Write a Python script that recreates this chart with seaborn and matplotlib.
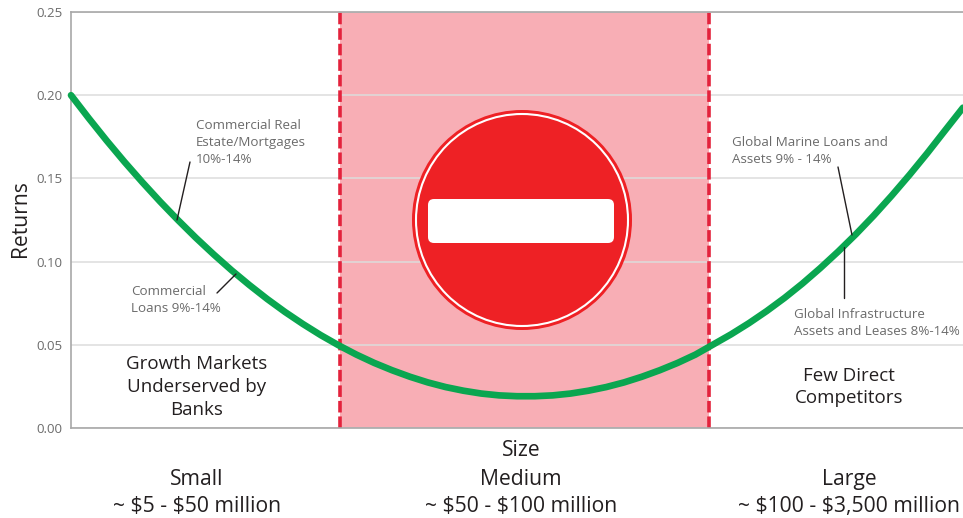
import numpy as np
import pandas as pd
import matplotlib.pyplot as plt
import seaborn as sns
from matplotlib.patches import Circle, FancyBboxPatch

W, H = 963, 518

# size position on a 0-100 scale, returns
size_pos = [0, 2, 4, 6, 8, 10, 12, 14, 16, 18, 20, 22, 24, 26, 28, 30, 32, 34, 36, 38, 40, 42, 44, 46, 48, 50,
            52, 54, 56, 58, 60, 62, 64, 66, 68, 70, 72, 74, 76, 78, 80, 82, 84, 86, 88, 90, 92, 94, 96, 98, 100]
returns = [0.2000, 0.1861, 0.1727, 0.1599, 0.1477, 0.1360, 0.1249, 0.1143, 0.1043, 0.0948, 0.0859, 0.0775, 0.0697,
           0.0625, 0.0558, 0.0497, 0.0441, 0.0391, 0.0347, 0.0308, 0.0274, 0.0246, 0.0224, 0.0207, 0.0196, 0.0191,
           0.0191, 0.0196, 0.0207, 0.0224, 0.0246, 0.0274, 0.0308, 0.0347, 0.0391, 0.0441, 0.0502, 0.0563, 0.0630,
           0.0703, 0.0782, 0.0868, 0.0961, 0.1060, 0.1165, 0.1277, 0.1396, 0.1521, 0.1652, 0.1789, 0.1925]
y_ticks = [0.00, 0.05, 0.10, 0.15, 0.20, 0.25]
no_go_left = 30.2
no_go_right = 71.5

sns.set_style('white')
plt.rcParams['font.family'] = ['Open Sans', 'DejaVu Sans']


def px(x, y):
    # pixel position in the picture -> figure fraction
    return x / W, 1 - y / H


fig = plt.figure(figsize=(W / 100, H / 100), dpi=100)
ax = fig.add_axes([71 / W, 1 - 428 / H, (W - 71) / W, (428 - 12) / H])

df = pd.DataFrame({'size': size_pos, 'returns': returns})

ax.axvspan(no_go_left, no_go_right, color='#f8aeb5', lw=0, zorder=0)
ax.grid(axis='y', color='#dcdcdc', lw=1.1, zorder=1)
ax.set_axisbelow(True)
for v in [no_go_left, no_go_right]:
    ax.axvline(v, color='#e3223c', lw=2.6, dashes=(3.2, 1.1), zorder=2)

sns.lineplot(data=df, x='size', y='returns', color='#0aa650', lw=4.8, ax=ax, zorder=3,
             solid_capstyle='round', clip_on=False)

ax.set_xlim(0, 100)
ax.set_ylim(0, 0.25)
ax.set_xticks([])
ax.set_yticks(y_ticks)
ax.set_yticklabels([f'{v:.2f}' for v in y_ticks])
ax.tick_params(axis='y', length=0, pad=6, labelsize=9.5, labelcolor='#6b6b6b')
ax.set_xlabel('')
ax.set_ylabel('')
ax.spines['right'].set_visible(False)
for s in ['left', 'top', 'bottom']:
    ax.spines[s].set_color('#a8a8a8')
    ax.spines[s].set_linewidth(1.2)

# no-entry sign, drawn in inches so it stays round
tr = fig.dpi_scale_trans
cx, cy = 5.22, (H - 220) / 100
fig.add_artist(Circle((cx, cy), 1.10, transform=tr, fc='#ee2125', ec='none', zorder=5))
fig.add_artist(Circle((cx, cy), 1.06, transform=tr, fc='none', ec='white', lw=1.5, zorder=6))
fig.add_artist(FancyBboxPatch((4.28, (H - 243) / 100), 1.86, 0.44, boxstyle='round,pad=0,rounding_size=0.06',
                              transform=tr, fc='white', ec='none', zorder=7))

small = dict(fontsize=9.6, color='#6b6b6b', va='center', ha='left', linespacing=1.4)
big = dict(fontsize=13.5, color='#231f20', va='center', ha='center', linespacing=1.355)
axis = dict(fontsize=15.2, color='#231f20', va='center', ha='center', linespacing=1.38)

fig.text(*px(196, 142.5), 'Commercial Real\nEstate/Mortgages\n10%-14%', **small)
fig.text(*px(131, 300), 'Commercial\nLoans 9%-14%', **small)
fig.text(*px(732, 151), 'Global Marine Loans and\nAssets 9% - 14%', **small)
fig.text(*px(794, 323), 'Global Infrastructure\nAssets and Leases 8%-14%', **small)

fig.text(*px(197, 387), 'Growth Markets\nUnderserved by\nBanks', **big)
fig.text(*px(849, 387), 'Few Direct\nCompetitors', **big)

fig.text(*px(521, 451), 'Size', **axis)
fig.text(*px(197, 493), 'Small\n~ \\$5 - \\$50 million', **axis)
fig.text(*px(521, 493), 'Medium\n~ \\$50 - \\$100 million', **axis)
fig.text(*px(849, 493), 'Large\n~ \\$100 - \\$3,500 million', **axis)
fig.text(*px(21, 219), 'Returns', rotation=90, **axis)

# leader lines from the labels to the curve
leaders = [((190, 162), (177, 220)), ((217, 293), (236, 274)), ((838, 167), (852, 235)), ((844, 247), (844, 298))]
for a, b in leaders:
    fig.add_artist(plt.Line2D([a[0] / W, b[0] / W], [1 - a[1] / H, 1 - b[1] / H], color='#231f20', lw=1.0, zorder=8))

fig.savefig('out.png', dpi=100)
plt.close()
